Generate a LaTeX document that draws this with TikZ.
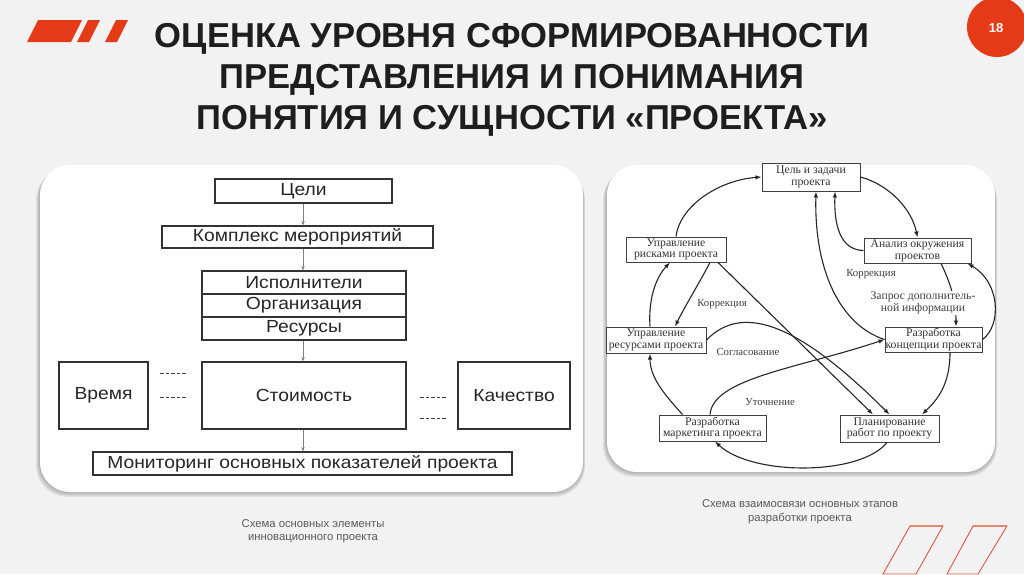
\documentclass[tikz,border=0pt]{standalone}
\usepackage{fontspec}
\setmainfont{Liberation Sans}
\newfontfamily\serifcyr{Liberation Serif}
\newfontfamily\widesans[FakeStretch=1.1]{Liberation Sans}
\usetikzlibrary{arrows.meta}
\definecolor{bgc}{HTML}{F2F2F2}
\definecolor{redA}{HTML}{E53A17}
\definecolor{redB}{HTML}{D9573E}
\definecolor{salm}{HTML}{E08870}
\definecolor{titc}{HTML}{1E1E1E}
\definecolor{capc}{HTML}{5A5A5A}
\begin{document}
\begin{tikzpicture}[x=1pt,y=-1pt,
  panel/.style={fill=white,rounded corners=30pt},
  shad/.style={fill=black,opacity=0.07,rounded corners=31pt},
  lbox/.style={draw=black!80,line width=1.2pt,inner sep=0pt,fill=white,text=black!85,
     font=\widesans\fontsize{17.5}{19}\selectfont},
  larr/.style={draw=black!50,line width=0.7pt,-{Stealth[length=4.5pt,width=3.5pt]}},
  ldash/.style={draw=black!75,line width=0.9pt,dash pattern=on 3.6pt off 2pt},
  rbox/.style={draw=black!75,line width=1pt,inner sep=0pt,fill=white,text=black!80,
     align=center,font=\serifcyr\fontsize{11.7}{11.8}\selectfont},
  rlab/.style={text=black!75,font=\serifcyr\fontsize{10.8}{11.3}\selectfont,align=center,inner sep=1pt},
  rarr/.style={draw=black!85,line width=1.1pt,-{Latex[length=6pt,width=4.5pt]}},
  titl/.style={anchor=base,text=titc,font=\bfseries\fontsize{34.6}{40}\selectfont},
  capt/.style={text=capc,align=center,font=\fontsize{11.3}{13.5}\selectfont}
]
\clip (0,0) rectangle (1024,574);
\fill[bgc] (0,0) rectangle (1024,574);

% top-left red marks
\fill[redA] (38,20) -- (82,20) -- (71,42) -- (27,42) -- cycle;
\fill[redA] (88,20) -- (100,20) -- (89,42) -- (77,42) -- cycle;
\fill[redA] (116,20) -- (128,20) -- (117,42) -- (105,42) -- cycle;

% page number circle
\fill[redA] (997,27) circle (30);
\node[text=white,font=\bfseries\fontsize{13}{15}\selectfont] (pg) at (996,28) {18};

% bottom-right outlined marks
\draw[redB,line width=0.9pt] (910,526) -- (943,526) -- (916,574) -- (883,574) -- cycle;
\draw[redB,line width=0.9pt] (973,526) -- (1007,526) -- (978,574) -- (947,574) -- cycle;
\draw[salm,line width=2pt] (910,526) -- (943,526);
\draw[salm,line width=2pt] (973,526) -- (1007,526);

% title
\node[titl] (t1) at (512,47) {ОЦЕНКА УРОВНЯ СФОРМИРОВАННОСТИ};
\node[titl] (t2) at (512,88) {ПРЕДСТАВЛЕНИЯ И ПОНИМАНИЯ};
\node[titl] (t3) at (512,129) {ПОНЯТИЯ И СУЩНОСТИ «ПРОЕКТА»};

% panels with soft shadows
\foreach \d in {1,2,3,4}{
  \fill[shad] (40-\d,165+\d) rectangle (583+0.5*\d,492+1.2*\d);
  \fill[shad] (607-\d,165+\d) rectangle (995+0.5*\d,472+1.2*\d);
}
\fill[panel] (40,165) rectangle (583,492);
\fill[panel] (607,165) rectangle (995,472);

% ---------- left diagram ----------
\node[lbox,minimum width=177pt,minimum height=24pt] (c1) at (303.5,191) {Цели};
\node[lbox,minimum width=271pt,minimum height=22pt] (c2) at (297.5,237) {Комплекс мероприятий};
\node[lbox,minimum width=204pt,minimum height=23pt] (c3) at (304,282.5) {Исполнители};
\node[lbox,minimum width=204pt,minimum height=23pt] (c4) at (304,305.5) {Организация};
\node[lbox,minimum width=204pt,minimum height=23pt] (c5) at (304,328.5) {Ресурсы};
\node[lbox,minimum width=89pt,minimum height=67pt] (vr) at (103.5,395.5) {Время};
\node[lbox,minimum width=204pt,minimum height=67pt] (st) at (304,395.5) {Стоимость};
\node[lbox,minimum width=112pt,minimum height=67pt] (kc) at (514,395.5) {Качество};
\node[lbox,minimum width=419pt,minimum height=23pt] (mn) at (302.5,463.5) {Мониторинг основных показателей проекта};

\draw[larr] ([xshift=-0.5pt]c1.south) -- ([xshift=-0.5pt]c1.south |- c2.north);
\draw[larr] ([xshift=-1pt]c3.north |- c2.south) -- ([xshift=-1pt]c3.north);
\draw[larr] ([xshift=-1pt]c5.south) -- ([xshift=-1pt]st.north);
\draw[larr] ([xshift=-1pt]st.south) -- ([xshift=-1pt]st.south |- mn.north);

\coordinate (d1a) at (160,373); \coordinate (d1b) at (188,373);
\coordinate (d2a) at (160,397); \coordinate (d2b) at (188,397);
\coordinate (d3a) at (420,397); \coordinate (d3b) at (447,397);
\coordinate (d4a) at (420,418); \coordinate (d4b) at (447,418);
\draw[ldash] (d1a) -- (d1b);
\draw[ldash] (d2a) -- (d2b);
\draw[ldash] (d3a) -- (d3b);
\draw[ldash] (d4a) -- (d4b);

\node[capt] (cap1) at (313,531) {Схема основных элементы\\инновационного проекта};

% ---------- right diagram ----------
\node[rbox,minimum width=98pt,minimum height=28pt] (g) at (811,177) {Цель и задачи\\проекта};
\node[rbox,minimum width=107pt,minimum height=25pt] (a) at (917.5,250.5) {Анализ окружения\\проектов};
\node[rbox,minimum width=100pt,minimum height=25pt] (r) at (676,249.5) {Управление\\рисками проекта};
\node[rbox,minimum width=100pt,minimum height=26pt] (s) at (656,340) {Управление\\ресурсами проекта};
\node[rbox,minimum width=97pt,minimum height=25pt] (k) at (933.5,339.5) {Разработка\\концепции проекта};
\node[rbox,minimum width=107pt,minimum height=26pt] (m) at (712.5,428) {Разработка\\маркетинга проекта};
\node[rbox,minimum width=99pt,minimum height=27pt] (p) at (889.5,428.5) {Планирование\\работ по проекту};

% connectors
\draw[rarr] (r.north) .. controls (680,205) and (720,180) .. (g.west);
\draw[rarr] (g.east) .. controls (890,185) and (912,210) .. (a.north);
\draw[rarr] (a.west) .. controls (840,250) and (834,225) .. ([xshift=24pt]g.south);
\draw[rarr] (k.west) .. controls (840,325) and (814,270) .. ([xshift=5pt]g.south);
\draw[rarr] ([xshift=23.5pt]a.south) .. controls (950,282) and (956,300) .. ([xshift=22.5pt]k.north);
\draw[rarr] (k.east) .. controls (1002,325) and (1000,282) .. ([xshift=-4pt]a.south east);
\draw[rarr] ([xshift=34pt]r.south) .. controls (698,285) and (684,308) .. ([xshift=19pt]s.north);
\draw[rarr] ([xshift=-6pt]s.north) .. controls (648,295) and (658,275) .. ([xshift=-6pt]r.south);
\draw[rarr] ([xshift=42pt]r.south) -- ([xshift=-16.5pt]p.north);
\draw[rarr] (s.east) .. controls (745,300) and (805,330) .. (p.north);
\draw[rarr] ([xshift=-2.5pt]m.north) .. controls (713,378) and (800,368) .. (k.west);
\draw[rarr] ([xshift=-30pt]m.north) .. controls (665,395) and (650,378) .. ([xshift=-6pt]s.south);
\draw[rarr] ([xshift=16.5pt]k.south) .. controls (950,385) and (937,400) .. ([xshift=32.5pt]p.north);
\draw[rarr] ([xshift=-2.5pt]p.south) .. controls (860,476) and (752,476) .. ([xshift=2.5pt]m.south);

% labels
\node[rlab] (l1) at (722,304) {Коррекция};
\node[rlab] (l2) at (748,352) {Согласование};
\node[rlab] (l3) at (770,402) {Уточнение};
\node[rlab] (l4) at (871,274) {Коррекция};
\node[rlab,fill=white,font=\serifcyr\fontsize{11.7}{11.8}\selectfont] (l5) at (923,303) {Запрос дополнитель-\\ной информации};

\node[capt] (cap2) at (800,511.5) {Схема взаимосвязи основных этапов\\разработки проекта};
\end{tikzpicture}
\end{document}
